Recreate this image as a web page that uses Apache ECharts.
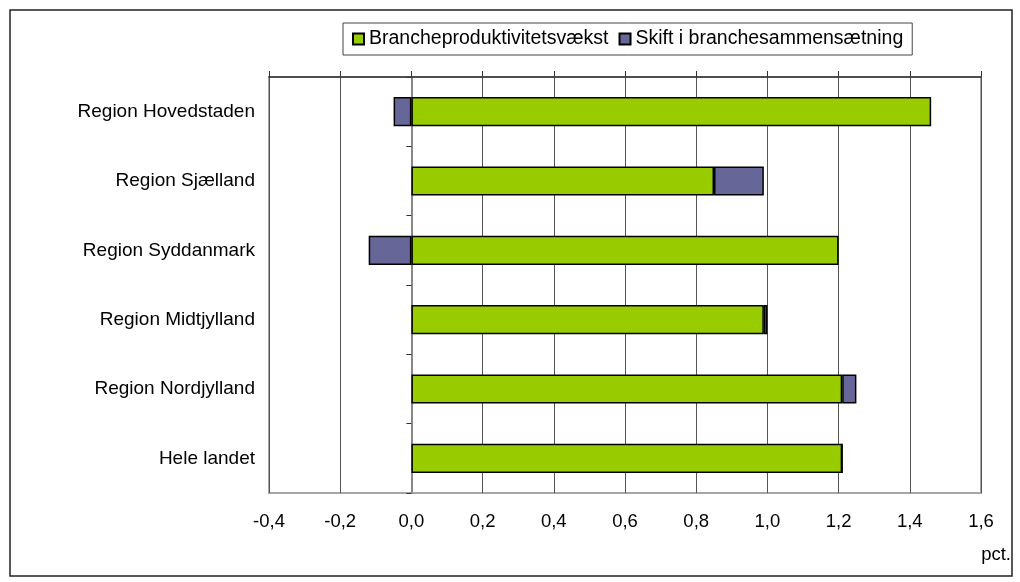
<!DOCTYPE html>
<html>
<head>
<meta charset="utf-8">
<script src="https://cdn.jsdelivr.net/npm/echarts@6/dist/echarts.min.js"></script>
<style>html,body{margin:0;padding:0;background:#fff}#c{width:1020px;height:582px}</style>
</head>
<body>
<div id="c"></div>
<script>
const categories = ["Region Hovedstaden", "Region Sjælland", "Region Syddanmark", "Region Midtjylland", "Region Nordjylland", "Hele landet"];
const seriesNames = ["Brancheproduktivitetsvækst", "Skift i branchesammensætning"];
const brancheVaekst = [1.46, 0.85, 1.20, 0.99, 1.21, 1.21];
const skiftSammensaetning = [-0.05, 0.14, -0.12, 0.01, 0.04, 0.0];
const axisMin = -0.4, axisMax = 1.6, axisStep = 0.2;
const unitLabel = "pct.";

const FONT = "'Liberation Sans', Arial, sans-serif";
const fmt = v => v.toFixed(1).replace('.', ',');

const chart = echarts.init(document.getElementById('c'), null, {renderer: 'canvas'});
chart.setOption({
  backgroundColor: '#fff',
  animation: false,
  textStyle: {fontFamily: FONT, color: '#000'},
  graphic: [
    {type: 'rect', shape: {x: 10, y: 10, width: 1002, height: 566},
     style: {fill: 'none', stroke: '#222', lineWidth: 1.5}, z: 0},
    {type: 'text', right: 9, top: 545,
     style: {text: unitLabel, font: '18.5px ' + FONT, fill: '#000'}}
  ],
  legend: {
    left: 343, top: 23,
    data: seriesNames,
    itemWidth: 11, itemHeight: 11, itemGap: 10,
    borderColor: '#444', borderWidth: 1,
    padding: [6, 9, 6, 9],
    textStyle: {fontFamily: FONT, fontSize: 19.5, color: '#000', padding: [0, 0, 0, 0]},
    icon: 'rect'
  },
  grid: {left: 269, right: 39, top: 77, bottom: 89, show: true,
         borderColor: '#a6a6a6', borderWidth: 2, backgroundColor: 'transparent'},
  xAxis: [
    {type: 'value', position: 'bottom', min: axisMin, max: axisMax, interval: axisStep,
     axisLine: {show: false}, axisTick: {show: false},
     axisLabel: {formatter: fmt, fontSize: 18.5, color: '#000', fontFamily: FONT, margin: 19},
     splitLine: {show: true, lineStyle: {color: '#555', width: 1}}},
    {type: 'value', position: 'top', min: axisMin, max: axisMax, interval: axisStep,
     axisLine: {show: true, onZero: false, lineStyle: {color: '#333', width: 1.5}},
     axisTick: {show: true, length: 6, lineStyle: {color: '#333', width: 1}},
     axisLabel: {show: false}, splitLine: {show: false}}
  ],
  yAxis: [
    {type: 'category', data: categories, inverse: true, position: 'left',
     axisLine: {show: false, onZero: false}, axisTick: {show: false},
     axisLabel: {fontSize: 19, color: '#000', fontFamily: FONT, margin: 14}},
    {type: 'category', data: categories, inverse: true, position: 'left',
     axisLine: {show: true, onZero: true, lineStyle: {color: '#888', width: 2}},
     axisTick: {show: true, length: 5, lineStyle: {color: '#333', width: 1}},
     axisLabel: {show: false}}
  ],
  series: [
    {name: seriesNames[0], type: 'bar', stack: 'total', data: brancheVaekst,
     barWidth: '42%', xAxisIndex: 0, yAxisIndex: 0,
     itemStyle: {color: '#99CC00', borderColor: '#000', borderWidth: 1.5}},
    {name: seriesNames[1], type: 'bar', stack: 'total', data: skiftSammensaetning,
     barWidth: '42%', xAxisIndex: 0, yAxisIndex: 0,
     itemStyle: {color: '#666699', borderColor: '#000', borderWidth: 1.5}}
  ]
});
</script>
</body>
</html>
